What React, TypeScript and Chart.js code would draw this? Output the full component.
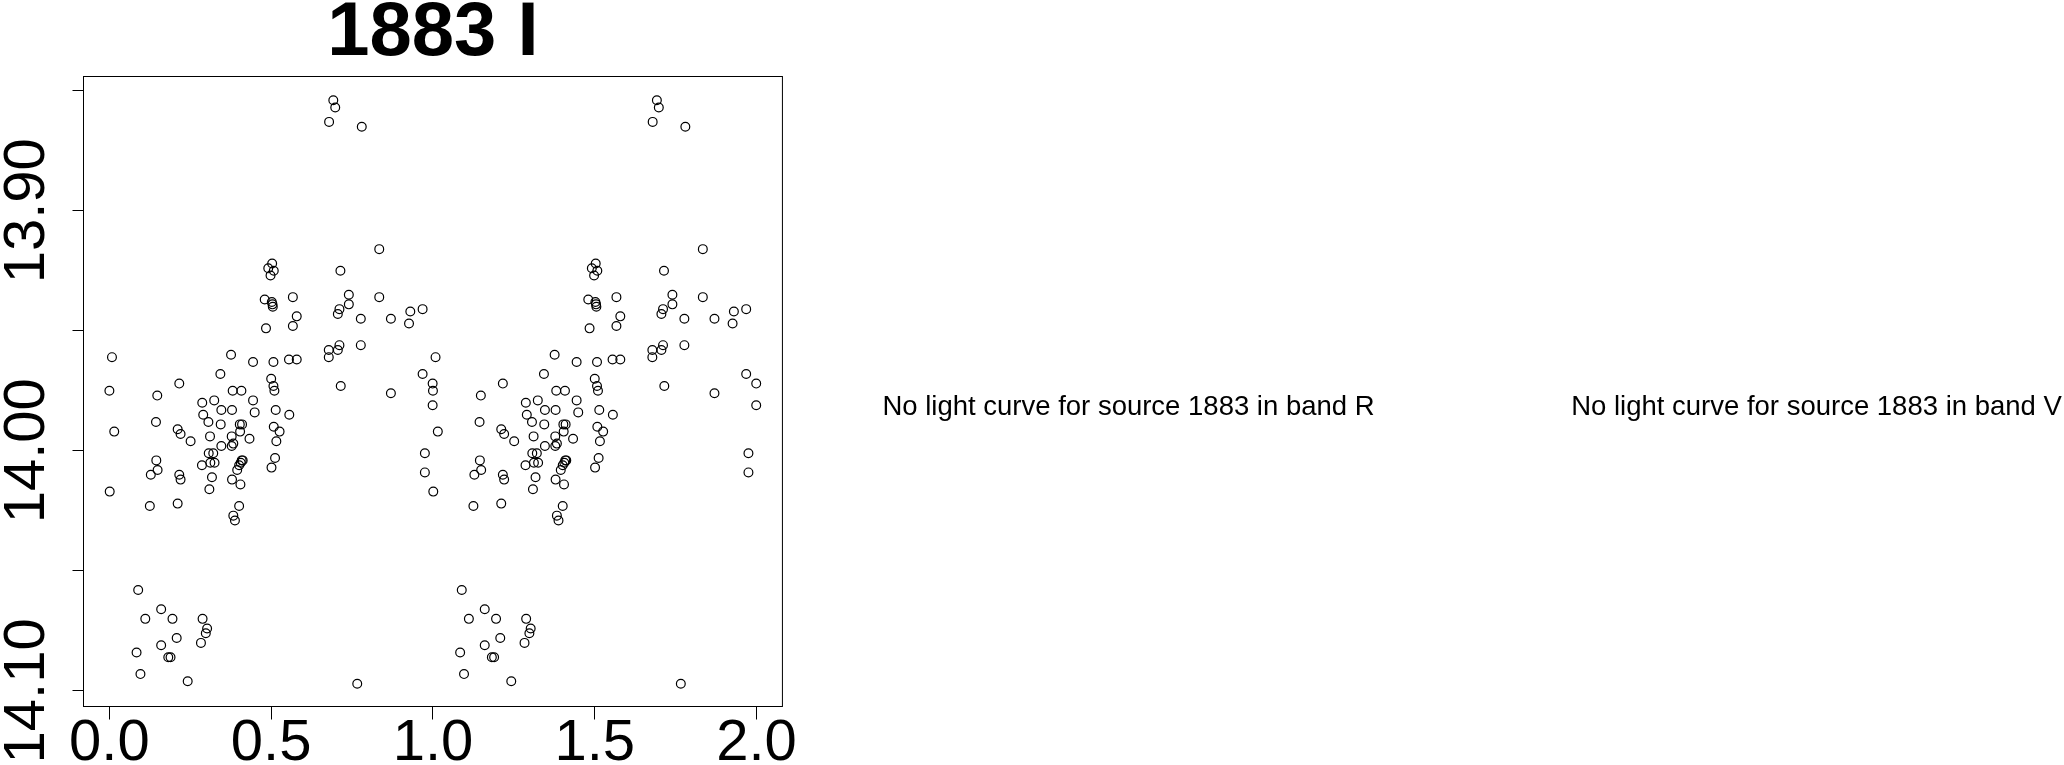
import React, { useEffect, useRef } from 'react';
import { Chart, registerables } from 'chart.js';

Chart.register(...registerables);

const sourceId = '1883';
const plotBand = 'I';
const missingBands = ['R', 'V'];

// phase-folded light curve (phase in [0,1)), magnitudes
const phase = [
  0.692, 0.698, 0.679, 0.780, 0.834, 0.503, 0.491, 0.508, 0.498, 0.714,
  0.740, 0.740, 0.711, 0.706, 0.777, 0.834, 0.480, 0.502, 0.504, 0.505,
  0.567, 0.579, 0.567, 0.484, 0.870, 0.930, 0.926, 0.968, 0.008, 0.376,
  0.444, 0.507, 0.555, 0.579, 0.678, 0.678, 0.706, 0.711, 0.777, 0.343,
  0.216, 0.968, 0.999,
  0.500, 0.507, 0.510, 0.715, 0.870, 0.999, 0.000, 0.148, 0.015, 0.144,
  0.001, 0.145, 0.149, 0.128, 0.125, 0.211, 0.220, 0.251, 0.216, 0.220,
  0.211, 0.287, 0.324, 0.290, 0.306, 0.346, 0.379, 0.381, 0.408, 0.444,
  0.449, 0.344, 0.311, 0.346, 0.378, 0.383, 0.378, 0.403, 0.410, 0.404,
  0.433, 0.307, 0.321, 0.312, 0.325, 0.286, 0.317, 0.309, 0.379, 0.405,
  0.395, 0.401, 0.406, 0.409, 0.412, 0.401, 0.383, 0.388, 0.514, 0.556,
  0.508, 0.526, 0.516, 0.512, 0.501, 0.975, 0.975,
  0.089, 0.160, 0.111, 0.195, 0.288, 0.302, 0.298, 0.208, 0.160, 0.283,
  0.084, 0.182, 0.189, 0.096, 0.242, 0.766,
];
const mag = [
  13.854, 13.857, 13.863, 13.865, 13.916, 13.922, 13.924, 13.925, 13.927, 13.925,
  13.935, 13.939, 13.941, 13.943, 13.945, 13.936, 13.937, 13.938, 13.939, 13.940,
  13.936, 13.944, 13.948, 13.949, 13.945, 13.942, 13.947, 13.941, 13.961, 13.960,
  13.963, 13.963, 13.962, 13.962, 13.958, 13.961, 13.958, 13.956, 13.956, 13.968,
  13.972, 13.968, 13.972,
  13.970, 13.973, 13.975, 13.973, 13.976, 13.981, 13.975, 13.977, 13.992, 13.988,
  14.017, 14.004, 14.008, 14.010, 14.023, 13.991, 13.993, 13.996, 14.010, 14.012,
  14.022, 13.980, 13.979, 13.985, 13.988, 13.983, 13.983, 13.975, 13.975, 13.979,
  13.984, 13.989, 13.994, 13.998, 13.994, 13.997, 13.998, 13.989, 13.989, 13.992,
  13.995, 14.001, 14.001, 14.005, 14.005, 14.006, 14.011, 14.016, 14.012, 14.014,
  14.008, 14.006, 14.005, 14.004, 14.004, 14.023, 14.027, 14.029, 13.983, 13.985,
  13.990, 13.992, 13.996, 14.003, 14.007, 14.001, 14.009,
  14.058, 14.066, 14.070, 14.070, 14.070, 14.074, 14.076, 14.078, 14.081, 14.080,
  14.084, 14.086, 14.086, 14.093, 14.096, 14.097,
];

const xTicks = [0, 0.5, 1, 1.5, 2];
const yTicks = [13.85, 13.9, 13.95, 14.0, 14.05, 14.1];
const yLabeledTicks = [13.9, 14.0, 14.1];

const FONT = '"Liberation Sans", Arial, Helvetica, sans-serif';

export default function App() {
  const canvasRef = useRef<HTMLCanvasElement | null>(null);

  useEffect(() => {
    const canvas = canvasRef.current;
    if (!canvas) return;

    const points = [
      ...phase.map((p, i) => ({ x: p, y: mag[i] })),
      ...phase.map((p, i) => ({ x: p + 1, y: mag[i] })),
    ];

    const framePlugin = {
      id: 'rframe',
      afterDraw(chart: any) {
        const { ctx, chartArea: a } = chart;
        ctx.save();
        ctx.strokeStyle = '#000';
        ctx.lineWidth = 1;
        ctx.strokeRect(a.left, a.top, a.right - a.left, a.bottom - a.top);
        const ys = chart.scales.y;
        ctx.fillStyle = '#000';
        ctx.font = `58px ${FONT}`;
        ctx.textAlign = 'center';
        ctx.textBaseline = 'alphabetic';
        yLabeledTicks.forEach((v) => {
          const py = ys.getPixelForValue(v);
          ctx.save();
          ctx.translate(43.5, py);
          ctx.rotate(-Math.PI / 2);
          ctx.fillText(v.toFixed(2), 0, 0);
          ctx.restore();
        });
        ctx.restore();
      },
    };

    const chart = new Chart(canvas, {
      type: 'scatter',
      data: {
        datasets: [
          {
            data: points,
            pointStyle: 'circle',
            pointRadius: 4.4,
            pointHoverRadius: 4.4,
            borderWidth: 1.2,
            borderColor: '#000',
            backgroundColor: 'rgba(0,0,0,0)',
            showLine: false,
          },
        ],
      },
      options: {
        responsive: false,
        animation: false,
        devicePixelRatio: 1,
        events: [],
        layout: { padding: { left: 0, right: 16.5, top: 0, bottom: 0 } },
        plugins: {
          legend: { display: false },
          tooltip: { enabled: false },
          title: {
            display: true,
            text: `${sourceId} ${plotBand}`,
            fullSize: false,
            color: '#000',
            font: { family: FONT, size: 76, weight: 'bold', lineHeight: 0.6 },
            padding: { top: 10.9, bottom: 20 },
          },
        },
        scales: {
          x: {
            type: 'linear',
            position: 'bottom',
            min: -0.08,
            max: 2.08,
            afterBuildTicks: (s: any) => {
              s.ticks = xTicks.map((v) => ({ value: v }));
            },
            afterFit: (s: any) => {
              s.height = 765 - 706.5;
            },
            grid: {
              display: true,
              drawOnChartArea: false,
              drawTicks: true,
              tickLength: 13,
              color: '#000',
              lineWidth: 1,
            },
            border: { display: false },
            ticks: {
              autoSkip: false,
              maxRotation: 0,
              minRotation: 0,
              padding: 2.5,
              color: '#000',
              font: { family: FONT, size: 58, lineHeight: 0.75 },
              callback: (v: any) => Number(v).toFixed(1),
            },
          },
          y: {
            type: 'linear',
            position: 'left',
            reverse: true,
            min: 13.8441,
            max: 14.1065,
            afterBuildTicks: (s: any) => {
              s.ticks = yTicks.map((v) => ({ value: v }));
            },
            afterFit: (s: any) => {
              s.width = 83.5;
            },
            grid: {
              display: true,
              drawOnChartArea: false,
              drawTicks: true,
              tickLength: 11,
              color: '#000',
              lineWidth: 1,
            },
            border: { display: false },
            ticks: { display: false },
          },
        },
      },
      plugins: [framePlugin],
    });

    return () => {
      chart.destroy();
    };
  }, []);

  const textCenters = [1128.5, 1816.5];

  return (
    <div
      style={{
        position: 'absolute',
        left: 0,
        top: 0,
        width: 2064,
        height: 765,
        overflow: 'hidden',
        background: '#fff',
      }}
    >
      <canvas
        ref={canvasRef}
        width={800}
        height={765}
        style={{ position: 'absolute', left: 0, top: 0, width: 800, height: 765 }}
      />
      {missingBands.map((b, i) => (
        <div
          key={b}
          style={{
            position: 'absolute',
            left: textCenters[i] - 400,
            width: 800,
            top: 391.5,
            textAlign: 'center',
            fontFamily: FONT,
            fontSize: 27.5,
            lineHeight: '27.5px',
            color: '#000',
            whiteSpace: 'nowrap',
          }}
        >
          {`No light curve for source ${sourceId} in band ${b}`}
        </div>
      ))}
    </div>
  );
}
